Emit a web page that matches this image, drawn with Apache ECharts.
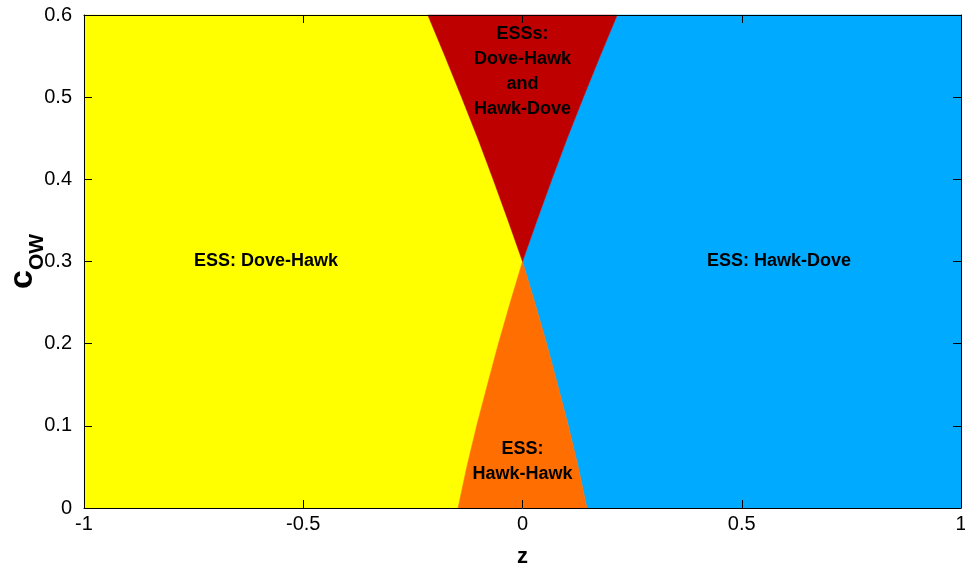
<!DOCTYPE html>
<html><head><meta charset="utf-8">
<script src="https://cdn.jsdelivr.net/npm/echarts@6/dist/echarts.min.js"></script>
<style>html,body{margin:0;padding:0;background:#fff}#c{width:965px;height:574px}</style>
</head><body><div id="c"></div>
<script>
// boundary curves: z value at each c level
const cLevels = [0, 0.05, 0.1, 0.15, 0.2, 0.25, 0.3, 0.35, 0.4, 0.45, 0.5, 0.55, 0.6];
const leftBoundary = [-0.147, -0.127, -0.1045, -0.08, -0.055, -0.028, 0, -0.033, -0.067, -0.102, -0.139, -0.177, -0.216];
const rightBoundary = [0.147, 0.127, 0.1045, 0.08, 0.055, 0.028, 0, 0.033, 0.067, 0.102, 0.139, 0.177, 0.216];
// regions
const regionLabels = ['ESS: Dove-Hawk', 'ESS: Hawk-Dove', 'ESS:\nHawk-Hawk', 'ESSs:\nDove-Hawk\nand\nHawk-Dove'];
const regionColors = ['#FFFF00', '#00AAFF', '#FF6E00', '#BF0000'];
const labelZ = [-0.585, 0.585, 0, 0];
const labelC = [0.3, 0.3, 0.056, 0.531];
const xTickValues = [-1, -0.5, 0, 0.5, 1];
const yTickValues = [0, 0.1, 0.2, 0.3, 0.4, 0.5, 0.6];

const xMin = -1, xMax = 1, yMin = 0, yMax = 0.6;
const mid = cLevels.indexOf(0.3);
const L = cLevels.map((c, i) => [leftBoundary[i], c]);
const R = cLevels.map((c, i) => [rightBoundary[i], c]);
const polygons = [
  [[xMin, yMin]].concat(L, [[xMin, yMax]]),
  [[xMax, yMin]].concat(R, [[xMax, yMax]]),
  L.slice(0, mid + 1).concat(R.slice(0, mid + 1).reverse()),
  L.slice(mid).concat(R.slice(mid).reverse())
];
const data = regionLabels.map((t, i) => [labelZ[i], labelC[i], i]);

const fmt = v => String(v);
const font = '"Liberation Sans", Arial, sans-serif';

const axisCommon = {
  z: 10,
  axisLine: {show: true, onZero: false, lineStyle: {color: '#000', width: 1}},
  axisTick: {show: true, inside: true, length: 8, lineStyle: {color: '#000'}},
  splitLine: {show: false}
};

const chart = echarts.init(document.getElementById('c'), null, {renderer: 'canvas'});
chart.setOption({
  animation: false,
  backgroundColor: '#fff',
  grid: {left: 84, right: 4, top: 15, bottom: 66, containLabel: false, outerBoundsMode: 'none'},
  xAxis: [Object.assign({}, axisCommon, {
    type: 'value', min: xMin, max: xMax, interval: 0.5,
    name: 'z', nameLocation: 'middle', nameGap: 38, nameMoveOverlap: false,
    nameTextStyle: {fontFamily: font, fontWeight: 'bold', fontSize: 22, color: '#000'},
    axisLabel: {fontFamily: font, fontSize: 20, color: '#000', margin: 6, formatter: fmt}
  }), Object.assign({}, axisCommon, {
    type: 'value', position: 'top', min: xMin, max: xMax, interval: 0.5,
    axisLabel: {show: false}
  })],
  yAxis: [Object.assign({}, axisCommon, {
    type: 'value', min: yMin, max: yMax, interval: 0.1,
    name: '{c|c}{s|OW}', nameLocation: 'middle', nameGap: 44, nameRotate: 90, nameMoveOverlap: false,
    nameTextStyle: {
      color: '#000',
      rich: {
        c: {fontFamily: font, fontWeight: 'bold', fontSize: 34, color: '#000', verticalAlign: 'bottom', lineHeight: 34},
        s: {fontFamily: font, fontWeight: 'bold', fontSize: 21, color: '#000', verticalAlign: 'bottom', padding: [0, 0, -8, 0], lineHeight: 34}
      }
    },
    axisLabel: {fontFamily: font, fontSize: 20, color: '#000', margin: 12, formatter: fmt}
  }), Object.assign({}, axisCommon, {
    type: 'value', position: 'right', min: yMin, max: yMax, interval: 0.1,
    axisLabel: {show: false}
  })],
  series: [{
    type: 'custom',
    xAxisIndex: 0, yAxisIndex: 0,
    silent: true,
    encode: {x: 0, y: 1},
    data: data,
    z: 1,
    renderItem: function (params, api) {
      const idx = api.value(2);
      const pts = polygons[idx].map(p => api.coord(p));
      const lp = api.coord([api.value(0), api.value(1)]);
      return {
        type: 'group',
        children: [{
          type: 'polygon',
          shape: {points: pts},
          style: {fill: regionColors[idx], stroke: regionColors[idx], lineWidth: 0.5},
          z2: 1
        }, {
          type: 'text',
          z2: 10,
          style: {
            text: regionLabels[idx], x: lp[0], y: lp[1],
            align: 'center', verticalAlign: 'middle',
            font: 'bold 18px ' + font, fill: '#000', lineHeight: 25
          }
        }]
      };
    }
  }]
});
</script></body></html>
